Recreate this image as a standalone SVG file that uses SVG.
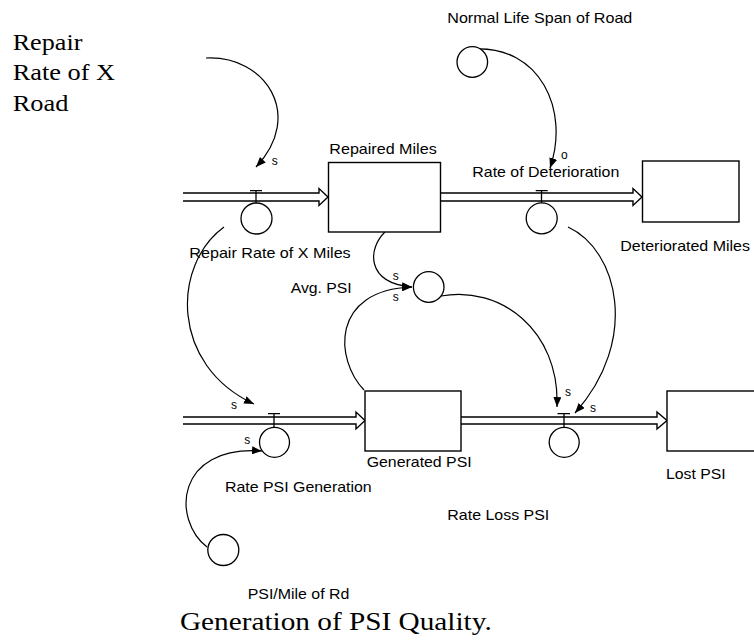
<svg xmlns="http://www.w3.org/2000/svg" width="754" height="641" viewBox="0 0 754 641">
<defs>
<marker id="ah" markerWidth="10" markerHeight="8" refX="10" refY="4" orient="auto" markerUnits="userSpaceOnUse"><path d="M0,0 L10,4 L0,8 z" fill="#000"/></marker>
<style>
.box{fill:#fff;stroke:#000;stroke-width:1.4}
.pipe{fill:none;stroke:#000;stroke-width:1.4}
.vc{fill:#fff;stroke:#000;stroke-width:1.3}
.vs{fill:none;stroke:#000;stroke-width:1.3}
.lnk{fill:none;stroke:#000;stroke-width:1.2;marker-end:url(#ah)}
.lbl{font-family:"Liberation Sans",Arial,sans-serif;font-size:14.5px;fill:#000}
.pol{font-family:"Liberation Sans",Arial,sans-serif;font-size:12px;fill:#000}
.ser{font-family:"Liberation Serif","Times New Roman",serif;font-size:24px;fill:#000}
</style>
</defs>
<rect width="754" height="641" fill="#fff"/>

<g id="connectors">
<path class="lnk" d="M206,58 C265,55 305,115 256,167"/>
<path class="lnk" d="M473,49 C540,45 570,110 550,168"/>
<path class="lnk" d="M385,232 C368,248 365,283 412,287"/>
<path class="lnk" d="M364,390 C335,360 330,290 412,287"/>
<path class="lnk" d="M441,296 C500,285 560,330 557,407"/>
<path class="lnk" d="M568,227 C618,250 640,340 575,413"/>
<path class="lnk" d="M224,227 C172,265 170,365 254,404"/>
<path class="lnk" d="M207,547 C172,520 175,445 262,451"/>
<text class="pol" x="271.7" y="164.7">s</text>
<text class="pol" x="561" y="159">o</text>
<text class="pol" x="392.7" y="280">s</text>
<text class="pol" x="392.7" y="301">s</text>
<text class="pol" x="231" y="409">s</text>
<text class="pol" x="244.3" y="444">s</text>
<text class="pol" x="565" y="396">s</text>
<text class="pol" x="590" y="411.7">s</text>
</g>

<g id="flow-repair-rate">
<path class="pipe" d="M183,193 H319 V188.5 L328,197 L319,205.5 V201 H183"/>
<path class="vs" d="M250,190.7 H262 M256,190.7 V203"/>
<circle class="vc" cx="256.5" cy="218.5" r="15.5"/>
<text class="lbl" x="189.3" y="257.7" textLength="161.4" lengthAdjust="spacingAndGlyphs">Repair Rate of X Miles</text>
</g>

<g id="flow-deterioration">
<path class="pipe" d="M441,193 H633 V188.5 L642,197 L633,205.5 V201 H441"/>
<path class="vs" d="M535.7,190.7 H547.7 M541.5,190.7 V203"/>
<circle class="vc" cx="541.7" cy="218.3" r="15.5"/>
<text class="lbl" x="472.3" y="177" textLength="147" lengthAdjust="spacingAndGlyphs">Rate of Deterioration</text>
</g>

<g id="flow-psi-generation">
<path class="pipe" d="M183,417 H356 V412 L365,420.5 L356,429 V424 H183"/>
<path class="vs" d="M268,413.7 H280 M274,413.7 V427"/>
<circle class="vc" cx="274.5" cy="442.3" r="15"/>
<text class="lbl" x="225" y="491.7" textLength="146.7" lengthAdjust="spacingAndGlyphs">Rate PSI Generation</text>
</g>

<g id="flow-loss-psi">
<path class="pipe" d="M461,417 H657 V412 L667,420.5 L657,429 V424 H461"/>
<path class="vs" d="M557.5,413.7 H570 M564,413.7 V427"/>
<circle class="vc" cx="564.2" cy="442.3" r="15"/>
<text class="lbl" x="447.3" y="520" textLength="102" lengthAdjust="spacingAndGlyphs">Rate Loss PSI</text>
</g>

<g id="stock-repaired-miles">
<rect class="box" x="328.5" y="162.5" width="112" height="69.5"/>
<text class="lbl" x="329.3" y="154.3" textLength="107.4" lengthAdjust="spacingAndGlyphs">Repaired Miles</text>
</g>

<g id="stock-deteriorated-miles">
<rect class="box" x="642.5" y="161" width="96.5" height="61"/>
<text class="lbl" x="620.3" y="251" textLength="129.7" lengthAdjust="spacingAndGlyphs">Deteriorated Miles</text>
</g>

<g id="stock-generated-psi">
<rect class="box" x="365" y="391" width="96" height="60"/>
<text class="lbl" x="366.7" y="466.7" textLength="105" lengthAdjust="spacingAndGlyphs">Generated PSI</text>
</g>

<g id="stock-lost-psi">
<rect class="box" x="667" y="391" width="96" height="60"/>
<text class="lbl" x="666" y="479" textLength="59.7" lengthAdjust="spacingAndGlyphs">Lost PSI</text>
</g>

<g id="aux-normal-life-span">
<circle class="vc" cx="472.3" cy="62" r="15.3"/>
<text class="lbl" x="447.3" y="22.7" textLength="185" lengthAdjust="spacingAndGlyphs">Normal Life Span of Road</text>
</g>

<g id="aux-avg-psi">
<circle class="vc" cx="428.7" cy="287" r="15.3"/>
<text class="lbl" x="290.7" y="292.7" textLength="61" lengthAdjust="spacingAndGlyphs">Avg. PSI</text>
</g>

<g id="aux-psi-per-mile">
<circle class="vc" cx="223.3" cy="550" r="15.5"/>
<text class="lbl" x="247.7" y="599" textLength="101.6" lengthAdjust="spacingAndGlyphs">PSI/Mile of Rd</text>
</g>

<g id="repair-rate-of-x-road">
<text class="ser" x="12.7" y="50" textLength="69.7" lengthAdjust="spacingAndGlyphs">Repair</text>
<text class="ser" x="12.7" y="80" textLength="102.3" lengthAdjust="spacingAndGlyphs">Rate of X</text>
<text class="ser" x="12.7" y="110.7" textLength="55.7" lengthAdjust="spacingAndGlyphs">Road</text>
</g>

<g id="title">
<text class="ser" x="180" y="630" style="font-size:25px" textLength="311.7" lengthAdjust="spacingAndGlyphs">Generation of PSI Quality.</text>
</g>
</svg>
